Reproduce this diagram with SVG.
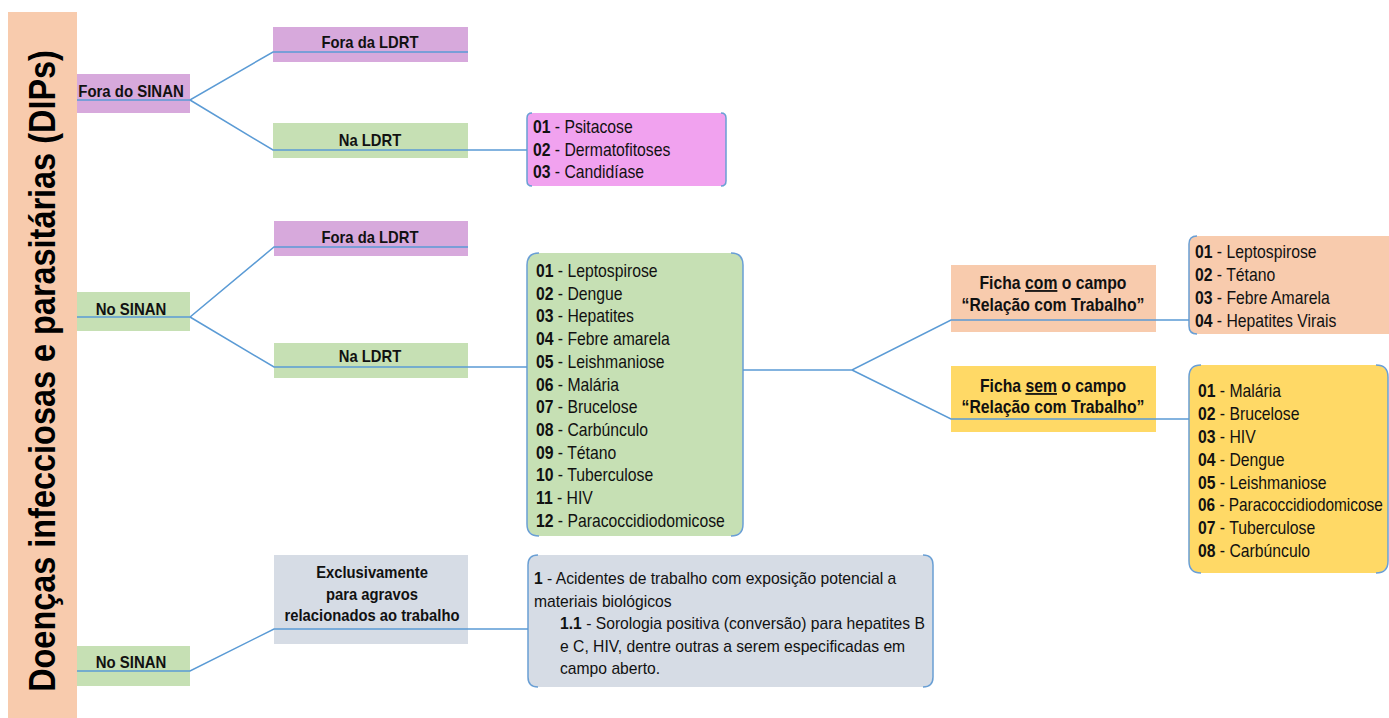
<svg xmlns="http://www.w3.org/2000/svg" width="1389" height="718" viewBox="0 0 1389 718">
<style>
.lbl{font-family:"Liberation Sans",Arial,sans-serif;font-weight:bold;font-size:17px;fill:#111;text-anchor:middle}
.fic{font-family:"Liberation Sans",Arial,sans-serif;font-weight:bold;font-size:18px;fill:#111;text-anchor:middle}
.itm{font-family:"Liberation Sans",Arial,sans-serif;font-size:17.5px;fill:#111}
.gry{font-family:"Liberation Sans",Arial,sans-serif;font-size:16px;fill:#111}
.b{font-weight:bold}
.title{font-family:"Liberation Sans",Arial,sans-serif;font-weight:bold;font-size:37px;fill:#000;text-anchor:middle}
.brk{fill:none;stroke:#6A9FD4;stroke-width:1.5}
.con{fill:none;stroke:#5B9BD5;stroke-width:1.5}
.purple{fill:#D7A9DC}
.green{fill:#C6E0B4}
.peach{fill:#F8CBAD}
.yellow{fill:#FFD966}
.grey{fill:#D6DCE5}
</style>
<g id="root">
<rect x="8" y="12" width="69" height="706" class="peach"/>
<text class="title" transform="translate(55,371) rotate(-90) scale(0.877,1)">Doenças infecciosas e parasitárias (DIPs)</text>
</g>
<g id="fora-sinan">
<rect x="77" y="74" width="113" height="39" class="purple"/>
<text class="lbl" transform="translate(131,97) scale(0.88,1)">Fora do SINAN</text>
</g>
<g id="fora-ldrt-1">
<rect x="273" y="27" width="195" height="35" class="purple"/>
<text class="lbl" transform="translate(370,48) scale(0.87,1)">Fora da LDRT</text>
</g>
<g id="na-ldrt-1">
<rect x="273" y="123" width="195" height="35" class="green"/>
<text class="lbl" transform="translate(370,146) scale(0.87,1)">Na LDRT</text>
</g>
<g id="list-pink">
<rect x="527" y="113" width="199" height="73" rx="5" fill="#F1A2EF"/>
<path class="brk" d="M532,113 Q527,113 527,118 V181 Q527,186 532,186 M721,113 Q726,113 726,118 V181 Q726,186 721,186"/>
<text class="itm" transform="translate(533,133) scale(0.9,1)"><tspan class="b">01</tspan> - Psitacose</text>
<text class="itm" transform="translate(533,156) scale(0.9,1)"><tspan class="b">02</tspan> - Dermatofitoses</text>
<text class="itm" transform="translate(533,178) scale(0.9,1)"><tspan class="b">03</tspan> - Candidíase</text>
</g>
<g id="no-sinan-1">
<rect x="77" y="292" width="113" height="39" class="green"/>
<text class="lbl" transform="translate(131,315) scale(0.88,1)">No SINAN</text>
</g>
<g id="fora-ldrt-2">
<rect x="274" y="221" width="194" height="35" class="purple"/>
<text class="lbl" transform="translate(370,243) scale(0.87,1)">Fora da LDRT</text>
</g>
<g id="na-ldrt-2">
<rect x="274" y="343" width="194" height="35" class="green"/>
<text class="lbl" transform="translate(370,362) scale(0.87,1)">Na LDRT</text>
</g>
<g id="list-green">
<rect x="527" y="253" width="216" height="283" rx="12" class="green"/>
<path class="brk" d="M539,253 Q527,253 527,265 V524 Q527,536 539,536 M731,253 Q743,253 743,265 V524 Q743,536 731,536"/>
<text class="itm" transform="translate(536,277) scale(0.9,1)"><tspan class="b">01</tspan> - Leptospirose</text>
<text class="itm" transform="translate(536,300) scale(0.9,1)"><tspan class="b">02</tspan> - Dengue</text>
<text class="itm" transform="translate(536,322) scale(0.9,1)"><tspan class="b">03</tspan> - Hepatites</text>
<text class="itm" transform="translate(536,345) scale(0.9,1)"><tspan class="b">04</tspan> - Febre amarela</text>
<text class="itm" transform="translate(536,368) scale(0.9,1)"><tspan class="b">05</tspan> - Leishmaniose</text>
<text class="itm" transform="translate(536,391) scale(0.9,1)"><tspan class="b">06</tspan> - Malária</text>
<text class="itm" transform="translate(536,413) scale(0.9,1)"><tspan class="b">07</tspan> - Brucelose</text>
<text class="itm" transform="translate(536,436) scale(0.9,1)"><tspan class="b">08</tspan> - Carbúnculo</text>
<text class="itm" transform="translate(536,459) scale(0.9,1)"><tspan class="b">09</tspan> - Tétano</text>
<text class="itm" transform="translate(536,481) scale(0.9,1)"><tspan class="b">10</tspan> - Tuberculose</text>
<text class="itm" transform="translate(536,504) scale(0.9,1)"><tspan class="b">11</tspan> - HIV</text>
<text class="itm" transform="translate(536,527) scale(0.9,1)"><tspan class="b">12</tspan> - Paracoccidiodomicose</text>
</g>
<g id="ficha-com">
<rect x="951" y="265" width="205" height="67" class="peach"/>
<text class="fic" transform="translate(1053,289) scale(0.875,1)">Ficha <tspan text-decoration="underline">com</tspan> o campo</text>
<text class="fic" transform="translate(1053,311) scale(0.875,1)">“Relação com Trabalho”</text>
</g>
<g id="list-peach">
<rect x="1189" y="236" width="215" height="98" rx="8" class="peach"/>
<path class="brk" d="M1197,236 Q1189,236 1189,244 V326 Q1189,334 1197,334"/>
<text class="itm" transform="translate(1195,258) scale(0.9,1)"><tspan class="b">01</tspan> - Leptospirose</text>
<text class="itm" transform="translate(1195,281) scale(0.9,1)"><tspan class="b">02</tspan> - Tétano</text>
<text class="itm" transform="translate(1195,304) scale(0.9,1)"><tspan class="b">03</tspan> - Febre Amarela</text>
<text class="itm" transform="translate(1195,327) scale(0.9,1)"><tspan class="b">04</tspan> - Hepatites Virais</text>
</g>
<g id="ficha-sem">
<rect x="951" y="366" width="205" height="66" class="yellow"/>
<text class="fic" transform="translate(1053,392) scale(0.875,1)">Ficha <tspan text-decoration="underline">sem</tspan> o campo</text>
<text class="fic" transform="translate(1053,413) scale(0.875,1)">“Relação com Trabalho”</text>
</g>
<g id="list-yellow">
<rect x="1189" y="365" width="199" height="208" rx="12" class="yellow"/>
<path class="brk" d="M1201,365 Q1189,365 1189,377 V561 Q1189,573 1201,573 M1376,365 Q1388,365 1388,377 V561 Q1388,573 1376,573"/>
<text class="itm" transform="translate(1198,397) scale(0.9,1)"><tspan class="b">01</tspan> - Malária</text>
<text class="itm" transform="translate(1198,420) scale(0.9,1)"><tspan class="b">02</tspan> - Brucelose</text>
<text class="itm" transform="translate(1198,443) scale(0.9,1)"><tspan class="b">03</tspan> - HIV</text>
<text class="itm" transform="translate(1198,466) scale(0.9,1)"><tspan class="b">04</tspan> - Dengue</text>
<text class="itm" transform="translate(1198,489) scale(0.9,1)"><tspan class="b">05</tspan> - Leishmaniose</text>
<text class="itm" transform="translate(1198,511) scale(0.88,1)"><tspan class="b">06</tspan> - Paracoccidiodomicose</text>
<text class="itm" transform="translate(1198,534) scale(0.9,1)"><tspan class="b">07</tspan> - Tuberculose</text>
<text class="itm" transform="translate(1198,557) scale(0.9,1)"><tspan class="b">08</tspan> - Carbúnculo</text>
</g>
<g id="no-sinan-2">
<rect x="77" y="646" width="113" height="40" class="green"/>
<text class="lbl" transform="translate(131,668) scale(0.88,1)">No SINAN</text>
</g>
<g id="exclusivamente">
<rect x="274" y="555" width="194" height="89" class="grey"/>
<text class="lbl" transform="translate(372,578) scale(0.87,1)">Exclusivamente</text>
<text class="lbl" transform="translate(372,600) scale(0.87,1)">para agravos</text>
<text class="lbl" transform="translate(372,621) scale(0.87,1)">relacionados ao trabalho</text>
</g>
<g id="list-grey">
<rect x="528" y="555" width="405" height="132" rx="10" class="grey"/>
<path class="brk" d="M538,555 Q528,555 528,565 V677 Q528,687 538,687 M923,555 Q933,555 933,565 V677 Q933,687 923,687"/>
<text class="gry" transform="translate(534,584) scale(0.98,1)"><tspan class="b">1</tspan> - Acidentes de trabalho com exposição potencial a</text>
<text class="gry" transform="translate(534,607) scale(0.98,1)">materiais biológicos</text>
<text class="gry" transform="translate(560,629) scale(0.98,1)"><tspan class="b">1.1</tspan> - Sorologia positiva (conversão) para hepatites B</text>
<text class="gry" transform="translate(560,652) scale(0.98,1)">e C, HIV, dentre outras a serem especificadas em</text>
<text class="gry" transform="translate(560,674) scale(0.98,1)">campo aberto.</text>
</g>
<g id="connectors">
<path class="con" d="M77,100 H190 L273,52 H468"/>
<path class="con" d="M190,100 L273,150 H527"/>
<path class="con" d="M77,317 H190 L274,247 H468"/>
<path class="con" d="M190,317 L274,367 H527"/>
<path class="con" d="M743,370 H852 L951,320 H1189"/>
<path class="con" d="M852,370 L951,419 H1189"/>
<path class="con" d="M77,671 H190 L274,629 H528"/>
</g>
</svg>
